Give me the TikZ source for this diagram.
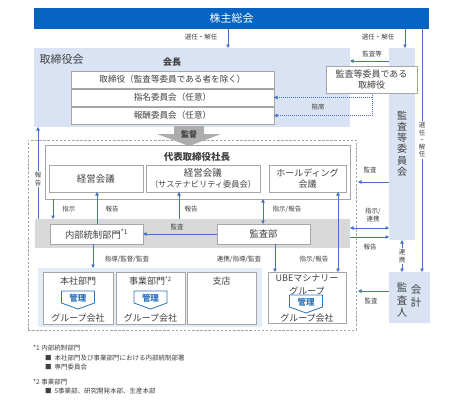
\documentclass[tikz,border=0pt]{standalone}
\usepackage{fontspec}
\setmainfont{Noto Sans CJK JP}
\usetikzlibrary{arrows.meta}
\definecolor{barblue}{HTML}{0563C1}
\definecolor{arrblue}{HTML}{4472C4}
\definecolor{lblue}{HTML}{DAE3F3}
\definecolor{vlblue}{HTML}{E3EDF8}
\definecolor{bandgray}{HTML}{D9D9D9}
\definecolor{boxgray}{HTML}{A6A6A6}
\definecolor{txtgray}{HTML}{404040}
\definecolor{fatgray}{HTML}{ADADAD}
\definecolor{shblue}{HTML}{2E75B6}
\newcommand\fsz[2]{\fontsize{#1}{#2}\selectfont}
\newcommand\kanri[2]{%
  \coordinate (#1) at #2;
  \draw[shline] ([shift={(-16.5,-8)}]#1) -- ([shift={(16.5,-8)}]#1) -- ([shift={(16.5,4)}]#1) -- ([shift={(0,10)}]#1) -- ([shift={(-16.5,4)}]#1) -- cycle;
  \node[shtxt] (#1t) at ([shift={(0,-1)}]#1) {管理};}
\begin{document}
\begin{tikzpicture}[x=1pt,y=-1pt,
  box/.style={draw=boxgray,line width=0.6pt,fill=white,inner sep=0pt,outer sep=0pt,text=txtgray},
  area/.style={inner sep=0pt,outer sep=0pt},
  txt/.style={text=txtgray,inner sep=0.5pt,font=\fsz{9}{11}},
  lbl/.style={text=txtgray,inner sep=0.5pt,font=\fsz{6.5}{8}},
  vlbl/.style={text=txtgray,fill=white,align=center,font=\fsz{6.5}{7.3},inner xsep=0.5pt,inner ysep=1.5pt},
  arr/.style={draw=arrblue,line width=0.75pt,-{Triangle[length=3.5pt,width=3.5pt]}},
  darr/.style={draw=arrblue,line width=0.75pt,{Triangle[length=3.5pt,width=3.5pt]}-{Triangle[length=3.5pt,width=3.5pt]}},
  dotarr/.style={draw=arrblue,line width=0.7pt,dash pattern=on 0.9pt off 1.1pt,-{Triangle[length=3.5pt,width=3.5pt]}},
  shline/.style={draw=shblue,line width=0.8pt,fill=white,line join=miter},
  shtxt/.style={text=shblue,inner sep=0pt,font=\bfseries\fsz{8.5}{10}},
  fn/.style={text=txtgray,inner sep=0pt,anchor=west,font=\fsz{6.5}{8}}
]
\useasboundingbox[fill=white] (0,0) rectangle (467,410);

% top bar
\node[area,fill=barblue,minimum width=395pt,minimum height=21pt,text=white,font=\fsz{11}{12}] (sh) at (231.5,18.5) {株主総会};

% board
\node[area,fill=lblue,minimum width=316pt,minimum height=79pt] (board) at (192,87.5) {};
\node[txt,anchor=west,font=\fsz{11}{12}] (boardlbl) at (39,59) {取締役会};
\node[txt,font=\bfseries\fsz{9}{10}] (chair) at (172,62) {会長};
\node[box,minimum width=203pt,minimum height=17pt,font=\fsz{8.6}{10}] (d1) at (172.5,79.5) {取締役（監査等委員である者を除く）};
\node[box,minimum width=203pt,minimum height=17pt,font=\fsz{8.6}{10}] (d2) at (172.5,97.5) {指名委員会（任意）};
\node[box,minimum width=203pt,minimum height=17pt,font=\fsz{8.6}{10}] (d3) at (172.5,115.5) {報酬委員会（任意）};

% audit committee column
\node[area,fill=lblue,minimum width=26pt,minimum height=192pt] (acol) at (402,144) {};
\node[txt,align=center,font=\fsz{10}{11.2}] (acollbl) at (402,143.5) {監\\査\\等\\委\\員\\会};
\node[box,minimum width=91pt,minimum height=27pt,align=center,font=\fsz{9}{11}] (ad) at (371.5,79.5) {監査等委員である\\取締役};

% accounting auditor
\node[area,fill=lblue,minimum width=41pt,minimum height=51pt] (kk) at (409.5,297.5) {};
\node[txt,align=center,font=\fsz{10.5}{12.5}] (kkl) at (402,300) {監\\査\\人};
\node[txt,align=center,font=\fsz{10.5}{12.5}] (kkr) at (416,296) {会\\計};

% dashed frame
\node[area,draw=boxgray,line width=0.9pt,dash pattern=on 2.5pt off 1.6pt,minimum width=328pt,minimum height=190pt] (frame) at (192,235) {};

% supervise arrow
\fill[fatgray] (174,126) -- (204,126) -- (204,134) -- (221,134) -- (189,146) -- (157,134) -- (174,134) -- cycle;
\node[txt,font=\bfseries\fsz{8}{10}] (kantoku) at (189,134) {監督};

% president
\node[box,minimum width=305pt,minimum height=54pt] (pres) at (197.5,172) {};
\node[txt,font=\bfseries\fsz{9.5}{11}] (prest) at (197,157) {代表取締役社長};
\node[box,minimum width=94pt,minimum height=27pt,font=\fsz{9.5}{11}] (k1) at (96,178.5) {経営会議};
\node[box,minimum width=114pt,minimum height=27pt,align=center,font=\fsz{9.5}{10.5}] (k2) at (203,178.5) {経営会議\\{\fsz{8.2}{9.5}（サステナビリティ委員会）}};
\node[box,minimum width=77pt,minimum height=27pt,align=center,font=\fsz{9}{10.5}] (hd) at (307.5,178.5) {ホールディング\\会議};

% internal control band
\node[area,fill=bandgray,minimum width=315pt,minimum height=29pt] (band) at (192.5,233.5) {};
\node[box,minimum width=93pt,minimum height=20pt,font=\fsz{9.3}{11}] (ic) at (96.5,234) {内部統制部門\textsuperscript{*1}};
\node[box,minimum width=93pt,minimum height=20pt,font=\fsz{9.3}{11}] (ka) at (263.5,234) {監査部};

% group area
\node[area,fill=vlblue,minimum width=224pt,minimum height=59pt] (grp) at (150,297.5) {};
\node[box,minimum width=70pt,minimum height=52pt] (hq) at (78,298) {};
\node[box,minimum width=69pt,minimum height=52pt] (bu) at (150.5,298) {};
\node[box,minimum width=69pt,minimum height=52pt] (br) at (221.5,298) {};
\node[box,minimum width=78pt,minimum height=51pt] (ube) at (307,297.5) {};
\node[txt] (hqt) at (78,281) {本社部門};
\node[txt] (but) at (150.5,281) {事業部門\textsuperscript{*2}};
\node[txt] (brt) at (221.5,281) {支店};
\node[txt] (ubet1) at (307,278) {UBEマシナリー};
\node[txt] (ubet2) at (307,291) {グループ};
\kanri{s1}{(78,299)}
\kanri{s2}{(150.5,299)}
\kanri{s3}{(306,303)}
\node[txt] (hqg) at (78,318) {グループ会社};
\node[txt] (bug) at (150.5,318) {グループ会社};
\node[txt] (ubeg) at (307,318) {グループ会社};

% top arrows
\draw[arr] (228,0 |- sh.south) -- (228,0 |- board.north);
\node[lbl] (l1) at (201,37) {選任・解任};
\draw[arr] (405,0 |- sh.south) -- (405,0 |- acol.north);
\node[lbl] (l2) at (378,37) {選任・解任};
\draw[arr] (422,0 |- sh.south) -- (422,0 |- kk.north);
\node[vlbl] (l3) at (422,140) {選\\任\\・\\解\\任};
\draw[arr] (acol.west |- 0,61) -- (board.east |- 0,61);
\node[lbl] (l4) at (372,54) {監査等};
% attend (dotted)
\draw[dotarr] (ad.south -| 372,0) -- (372,0 |- d3.east) -- (d3.east);
\draw[dotarr] (372,0 |- d2.east) -- (d2.east);
\node[lbl] (l5) at (318,107) {陪席};

% left report
\draw[arr] (38,0 |- band.north) -- (38,0 |- board.south);
\node[vlbl] (l6) at (38,179) {報\\告};

% inside arrows
\draw[arr] (53,0 |- pres.south) -- (53,0 |- band.north);
\node[lbl] (l7) at (69,209) {指示};
\draw[arr] (97,0 |- ic.north) -- (97,0 |- k1.south);
\node[lbl] (l8) at (112,209) {報告};
\draw[arr] (179,0 |- band.north) -- (179,0 |- k2.south);
\node[lbl] (l9) at (191,209) {報告};
\draw[darr] (263,0 |- pres.south) -- (263,0 |- ka.north);
\node[lbl] (l10) at (287,209) {指示/報告};
\draw[darr] (338,0 |- hd.south) -- (338,0 |- ube.north);
\node[lbl] (l11) at (314,259) {指示/報告};
\draw[arr] (ka.west) -- (ic.east);
\node[lbl] (l12) at (177,227) {監査};
\draw[arr] (93,0 |- ic.south) -- (93,0 |- grp.north);
\node[lbl] (l13) at (127,259) {指導/監督/監査};
\draw[arr] (275,0 |- ka.south) -- (275,0 |- ube.north);
\node[lbl] (l14) at (239,259) {連携/指導/監査};

% right side arrows
\coordinate (f1) at (358,182);
\coordinate (f2) at (358,291);
\draw[arr] (acol.west |- f1) -- (f1);
\node[lbl] (l15) at (370,170) {監査};
\draw[darr] (band.east |- 0,228) -- (acol.west |- 0,228);
\node[lbl,align=center,font=\fsz{6.5}{8.5}] (l16) at (373,215) {指示/\\連携};
\draw[arr] (band.east |- 0,237) -- (acol.west |- 0,237);
\node[lbl] (l17) at (370,247) {報告};
\draw[darr] (402,0 |- acol.south) -- (402,0 |- kk.north);
\node[vlbl] (l18) at (402,256) {連\\携};
\draw[arr] (kk.west |- f2) -- (f2);
\node[lbl] (l19) at (371,301) {監査};

% footnotes
\node[fn] (fn1) at (33,348) {*1 内部統制部門};
\node[fn] (fn2) at (45,358) {■\ \ 本社部門及び事業部門における内部統制部署};
\node[fn] (fn3) at (45,367) {■\ \ 専門委員会};
\node[fn] (fn4) at (33,382) {*2 事業部門};
\node[fn] (fn5) at (45,391) {■\ \ 5事業部、研究開発本部、生産本部};
\end{tikzpicture}
\end{document}
